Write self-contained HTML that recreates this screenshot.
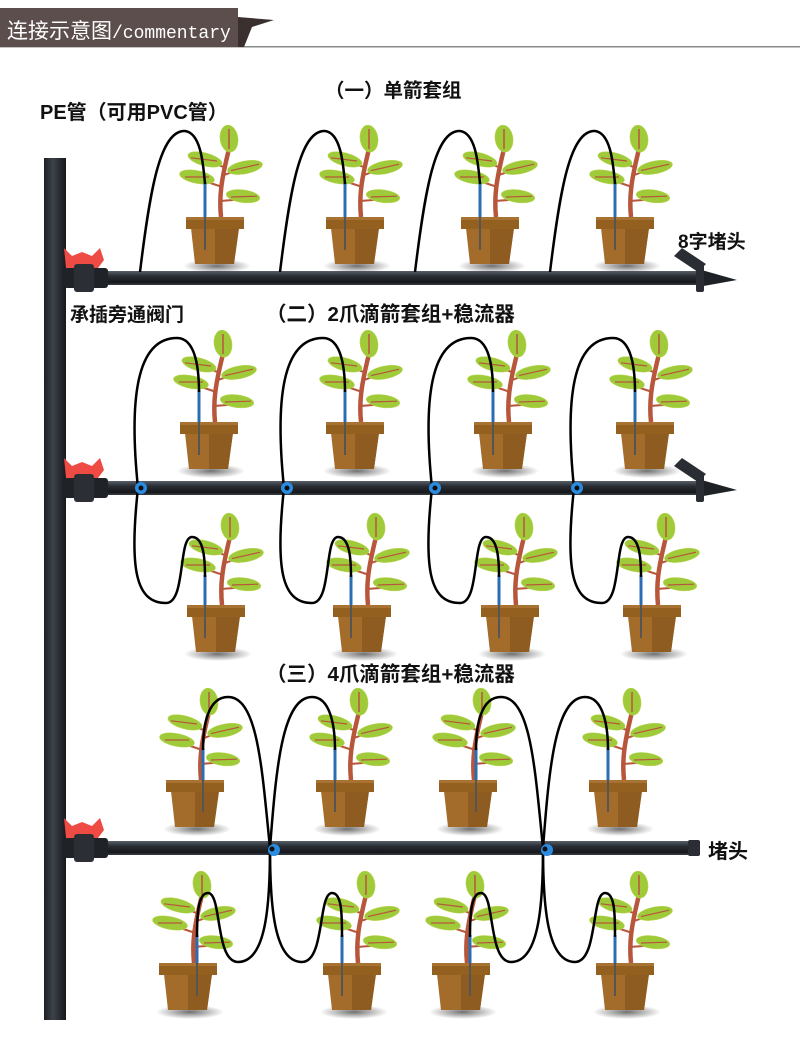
<!DOCTYPE html>
<html><head><meta charset="utf-8"><style>
html,body{margin:0;padding:0;background:#fff}
svg{display:block}
.t{font-family:"Liberation Sans","Noto Sans CJK SC",sans-serif;font-weight:bold;fill:#111}
</style></head><body>
<svg width="800" height="1040" viewBox="0 0 800 1040" xmlns="http://www.w3.org/2000/svg">
<defs>
<linearGradient id="hp" x1="0" y1="0" x2="0" y2="1"><stop offset="0" stop-color="#5a606a"/><stop offset=".35" stop-color="#2a2e35"/><stop offset=".8" stop-color="#15171b"/><stop offset="1" stop-color="#3a3e45"/></linearGradient>
<linearGradient id="vp" x1="0" y1="0" x2="1" y2="0"><stop offset="0" stop-color="#1c1f24"/><stop offset=".4" stop-color="#3d424a"/><stop offset="1" stop-color="#16181c"/></linearGradient>
<radialGradient id="sh"><stop offset="0" stop-color="#333" stop-opacity=".7"/><stop offset="1" stop-color="#333" stop-opacity="0"/></radialGradient>
<g id="plant">
<ellipse cx="2" cy="49" rx="34" ry="7" fill="url(#sh)"/>
<polygon points="-24,11 24,11 19,47 -20,47" fill="#a36c2a"/>
<polygon points="0,11 24,11 19,47 0,47" fill="#8e5c21"/>
<rect x="-29" y="0" width="58" height="12" fill="#93601f"/>
<rect x="-29" y="0" width="58" height="3" fill="#a87332"/>
<g transform="scale(1,0.8)">
<path d="M6,0 C4,-25 6,-45 14,-85" stroke="#b8563c" stroke-width="4.5" fill="none"/>
<path d="M5,-20 L26,-22 M6,-38 L-18,-48 M8,-52 L30,-62 M10,-62 L-8,-70" stroke="#b8563c" stroke-width="2.5" fill="none"/>
<g fill="#9fcb3a" stroke="#c2d85a" stroke-width=".5">
<ellipse cx="14" cy="-98" rx="9" ry="17" transform="rotate(-5 14 -98)"/>
<ellipse cx="-18" cy="-50" rx="18" ry="8" transform="rotate(15 -18 -50)"/>
<ellipse cx="-10" cy="-72" rx="18" ry="8" transform="rotate(20 -10 -72)"/>
<ellipse cx="30" cy="-62" rx="18" ry="8" transform="rotate(-15 30 -62)"/>
<ellipse cx="28" cy="-26" rx="17" ry="8" transform="rotate(10 28 -26)"/>
</g>
<path d="M-30,-50 L-6,-50 M-24,-74 L2,-70 M16,-58 L44,-66 M16,-25 L42,-26 M14,-85 L14,-110" stroke="#b8563c" stroke-width="1.5" fill="none"/>
</g>
</g>
<g id="valve">
<path d="M-4,-30 L4,-22 L14,-26 L24,-22 L32,-30 L36,-18 L30,-10 L26,-8 L2,-8 L-2,-10 Z" fill="#ef4b45"/>
<rect x="-4" y="-10" width="44" height="20" rx="3" fill="#1f2227"/>
<rect x="6" y="-14" width="20" height="28" rx="3" fill="#2b2f35"/>
</g>
<g id="plug">
<polygon points="-6,-22 2,-30 26,-14 18,-6" fill="#2a2e34"/>
<polygon points="18,-9 57,2 18,9" fill="#1e2126"/>
<rect x="16" y="-14" width="8" height="28" rx="2" fill="#2a2e34"/>
</g>
</defs>

<!-- header -->
<rect x="0" y="46" width="800" height="1.5" fill="#8a8a8a"/>
<rect x="0" y="8" width="238" height="39" fill="#5b4e4d"/>
<polygon points="238,17 274,20 252,27 244,47 238,47" fill="#3a3030"/>
<text x="7" y="38" font-size="21" fill="#fff" font-family="'Noto Sans CJK SC',sans-serif">连接示意图<tspan font-family="'Liberation Mono',monospace" font-size="18">/commentary</tspan></text>

<!-- labels -->
<text class="t" x="325" y="97" font-size="19.5">（一）单箭套组</text>
<text class="t" x="40" y="119" font-size="20">PE管（可用PVC管）</text>
<text class="t" x="70" y="321" font-size="19">承插旁通阀门</text>
<text class="t" x="266" y="321" font-size="20.5">（二）2爪滴箭套组+稳流器</text>
<text class="t" x="266" y="681" font-size="20.5">（三）4爪滴箭套组+稳流器</text>
<text class="t" x="678" y="248" font-size="19">8字堵头</text>
<text class="t" x="708" y="858" font-size="20">堵头</text>

<!-- vertical pipe -->
<rect x="44" y="158" width="22" height="862" fill="url(#vp)"/>

<!-- row 1 -->
<rect x="66" y="271" width="630" height="14" fill="url(#hp)"/>
<use href="#plug" x="680" y="278"/>
<use href="#valve" x="68" y="278"/>
<g id="r1">
<use href="#plant" x="215" y="217"/>
<line x1="205" y1="182" x2="205" y2="217" stroke="#2b6db3" stroke-width="3"/>
<line x1="205" y1="217" x2="205" y2="250" stroke="#555" stroke-width="2"/>
<path d="M140,272 C150,190 160,130 185,131 C200,133 203,160 205,184" stroke="#000" stroke-width="2.5" fill="none"/>
</g>
<use href="#r1" x="140"/>
<use href="#r1" x="275"/>
<use href="#r1" x="410"/>

<!-- row 2 -->
<rect x="66" y="481" width="630" height="14" fill="url(#hp)"/>
<use href="#plug" x="680" y="488"/>
<use href="#valve" x="68" y="488"/>
<g id="r2">
<use href="#plant" x="209" y="422"/>
<use href="#plant" x="216" y="605"/>
<line x1="199" y1="390" x2="199" y2="422" stroke="#2b6db3" stroke-width="3"/>
<line x1="199" y1="422" x2="199" y2="455" stroke="#555" stroke-width="2"/>
<line x1="205" y1="575" x2="205" y2="605" stroke="#2b6db3" stroke-width="3"/>
<line x1="205" y1="605" x2="205" y2="638" stroke="#555" stroke-width="2"/>
<path d="M138,488 C129,400 136,338 177,338 C196,338 199,370 199,392" stroke="#000" stroke-width="2.5" fill="none"/>
<path d="M138,488 C129,570 136,603 166,603 C186,603 178,537 192,537 C204,537 205,560 205,577" stroke="#000" stroke-width="2.5" fill="none"/>
<circle cx="141" cy="488" r="6" fill="#2a8be0"/><circle cx="141" cy="488" r="2.5" fill="#111"/>
</g>
<use href="#r2" x="146"/>
<use href="#r2" x="294"/>
<use href="#r2" x="436"/>

<!-- row 3 -->
<rect x="66" y="841" width="634" height="14" fill="url(#hp)"/>
<rect x="688" y="840" width="12" height="16" rx="2" fill="#2a2e34"/>
<use href="#valve" x="68" y="848"/>
<g id="r3">
<use href="#plant" x="195" y="780"/>
<use href="#plant" x="345" y="780"/>
<use href="#plant" x="188" y="963"/>
<use href="#plant" x="352" y="963"/>
<g stroke="#2b6db3" stroke-width="3">
<line x1="203" y1="748" x2="203" y2="780"/><line x1="335" y1="748" x2="335" y2="780"/>
<line x1="197" y1="935" x2="197" y2="963"/><line x1="342" y1="935" x2="342" y2="963"/>
</g>
<g stroke="#555" stroke-width="2">
<line x1="203" y1="780" x2="203" y2="812"/><line x1="335" y1="780" x2="335" y2="812"/>
<line x1="197" y1="963" x2="197" y2="996"/><line x1="342" y1="963" x2="342" y2="996"/>
</g>
<g stroke="#000" stroke-width="2.5" fill="none">
<path d="M270,848 C262,770 258,697 228,697 C208,697 203,725 203,750"/>
<path d="M270,848 C276,770 282,697 312,697 C330,697 335,725 335,750"/>
<path d="M270,848 C270,910 265,962 238,962 C215,962 222,893 208,893 C198,893 197,915 197,937"/>
<path d="M270,848 C270,910 275,962 302,962 C325,962 318,893 332,893 C342,893 342,915 342,937"/>
</g>
<circle cx="274" cy="850" r="6" fill="#2a8be0"/><circle cx="272" cy="849" r="2.5" fill="#111"/>
</g>
<use href="#r3" x="273"/>
</svg>
</body></html>
